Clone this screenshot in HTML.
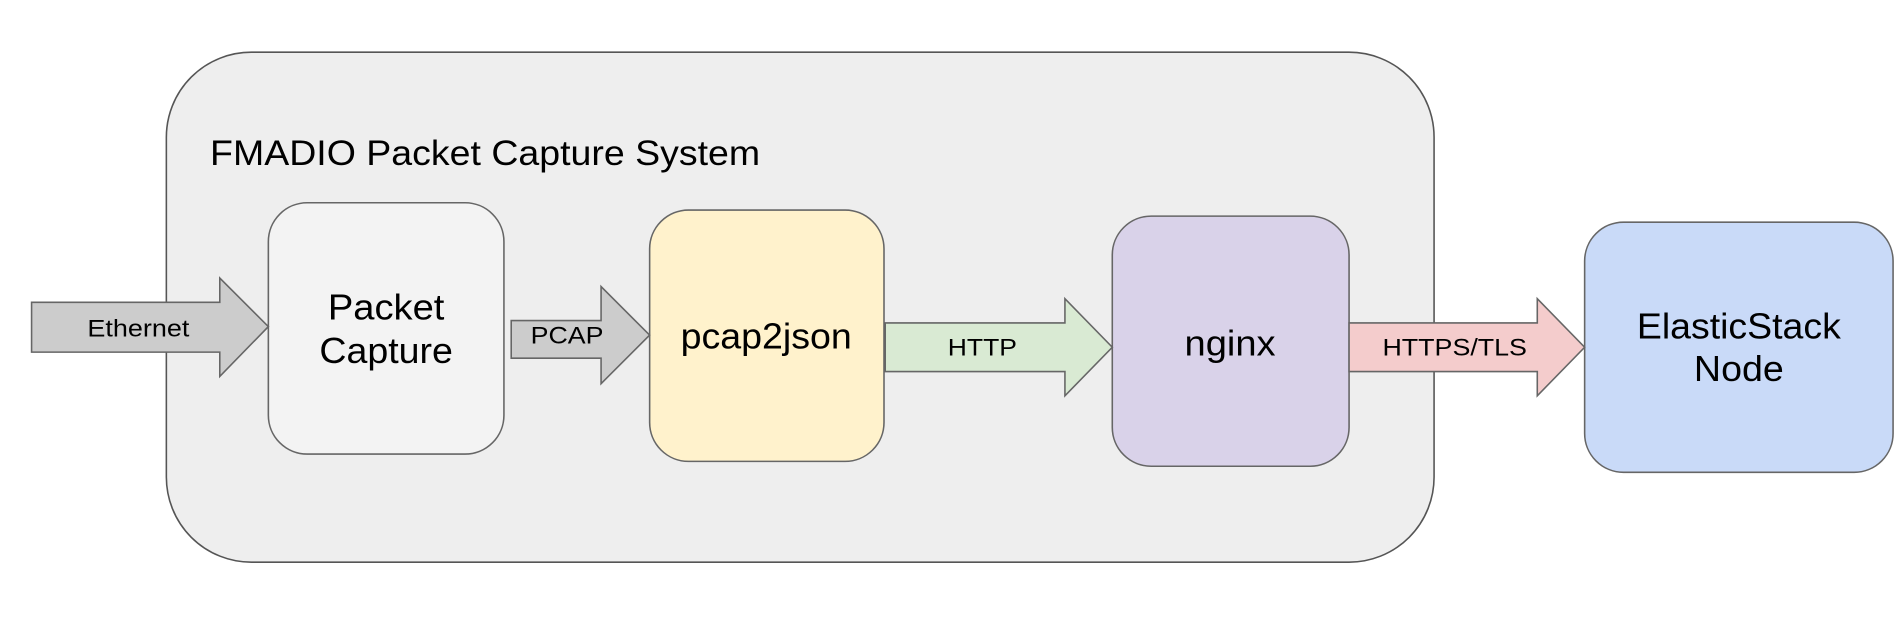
<!DOCTYPE html>
<html><head><meta charset="utf-8"><style>
html,body{margin:0;padding:0;background:#fff;width:1904px;height:635px;overflow:hidden}
svg{display:block}
text{font-family:"Liberation Sans",Arial,sans-serif;fill:#000}
</style></head><body>
<svg width="1904" height="635" viewBox="0 0 1568 523" preserveAspectRatio="none">
<rect x="137" y="43" width="1044" height="420" rx="70" fill="#eeeeee" stroke="#555" stroke-width="1.3"/>
<text x="173" y="136" font-size="29" textLength="453" lengthAdjust="spacingAndGlyphs">FMADIO Packet Capture System</text>

<rect x="221" y="167" width="194" height="207" rx="32" fill="#f3f3f3" stroke="#666" stroke-width="1.3"/>
<text x="318" y="263" font-size="30" text-anchor="middle" textLength="96" lengthAdjust="spacingAndGlyphs">Packet</text>
<text x="318" y="299" font-size="30" text-anchor="middle" textLength="110" lengthAdjust="spacingAndGlyphs">Capture</text>

<rect x="535" y="173" width="193" height="207" rx="32" fill="#fff2cc" stroke="#666" stroke-width="1.3"/>
<text x="631" y="287" font-size="30" text-anchor="middle" textLength="141" lengthAdjust="spacingAndGlyphs">pcap2json</text>

<rect x="916" y="178" width="195" height="206" rx="32" fill="#d9d2e9" stroke="#666" stroke-width="1.3"/>
<text x="1013" y="293" font-size="30" text-anchor="middle" textLength="75" lengthAdjust="spacingAndGlyphs">nginx</text>

<rect x="1305" y="183" width="254" height="206" rx="32" fill="#c9daf8" stroke="#666" stroke-width="1.3"/>
<text x="1432" y="279" font-size="30" text-anchor="middle" textLength="168" lengthAdjust="spacingAndGlyphs">ElasticStack</text>
<text x="1432" y="314" font-size="30" text-anchor="middle" textLength="74" lengthAdjust="spacingAndGlyphs">Node</text>

<polygon points="26,249 181,249 181,229 221,269 181,310 181,290 26,290" fill="#cccccc" stroke="#666" stroke-width="1.3"/>
<text x="114" y="277" font-size="20" text-anchor="middle" textLength="84" lengthAdjust="spacingAndGlyphs">Ethernet</text>

<polygon points="421,264 495,264 495,236 535,276 495,316 495,295 421,295" fill="#cccccc" stroke="#666" stroke-width="1.3"/>
<text x="467" y="283" font-size="20" text-anchor="middle" textLength="60" lengthAdjust="spacingAndGlyphs">PCAP</text>

<polygon points="729,266 877,266 877,246 916,286 877,326 877,306 729,306" fill="#d9ead3" stroke="#666" stroke-width="1.3"/>
<text x="809" y="293" font-size="20" text-anchor="middle" textLength="57" lengthAdjust="spacingAndGlyphs">HTTP</text>

<polygon points="1111,266 1266,266 1266,246 1305,286 1266,326 1266,306 1111,306" fill="#f4cccc" stroke="#666" stroke-width="1.3"/>
<text x="1198" y="293" font-size="20" text-anchor="middle" textLength="119" lengthAdjust="spacingAndGlyphs">HTTPS/TLS</text>
</svg>
</body></html>
